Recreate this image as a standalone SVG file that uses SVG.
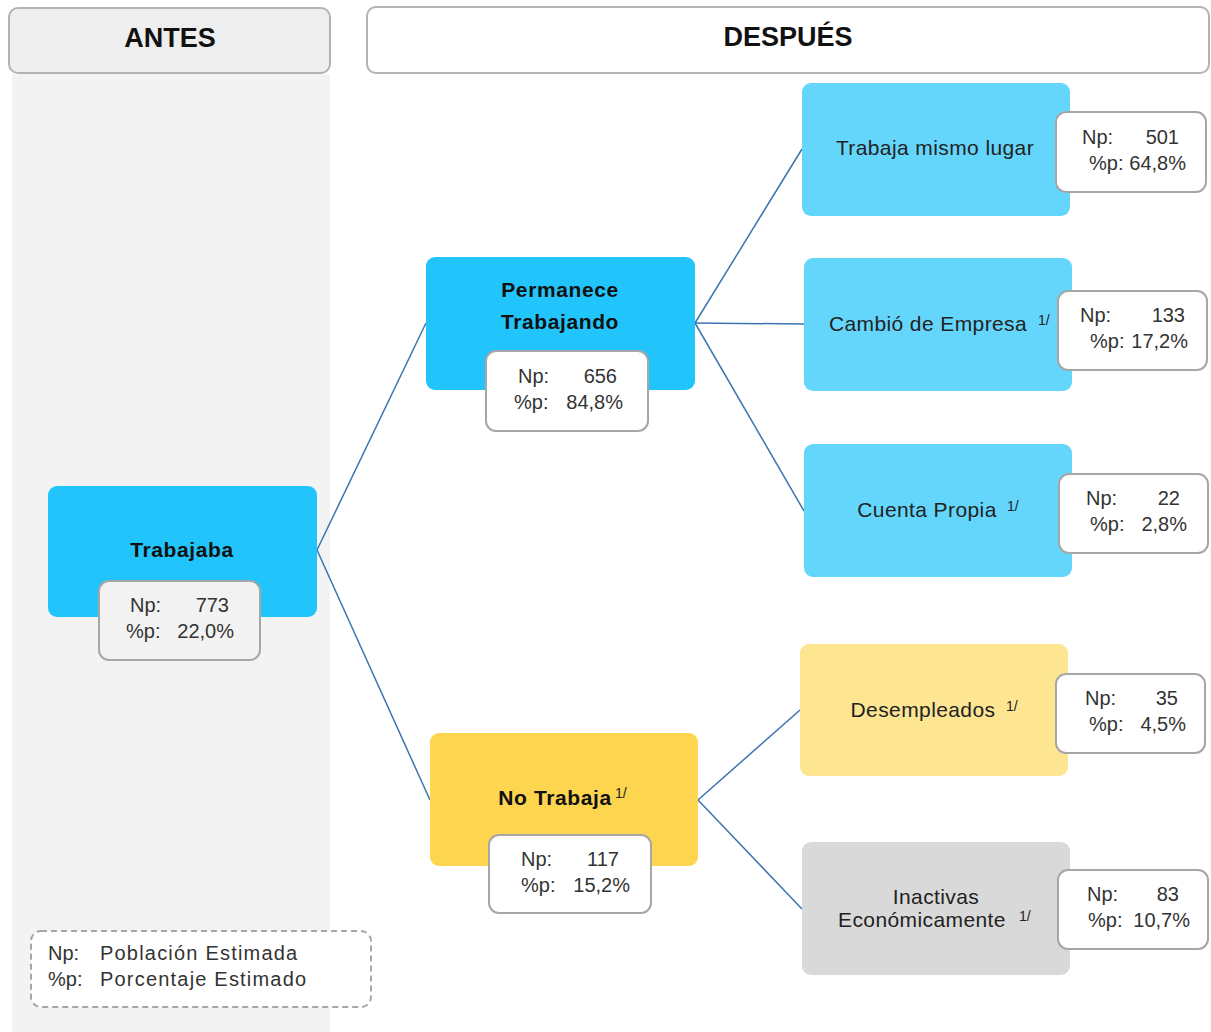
<svg xmlns="http://www.w3.org/2000/svg" width="1211" height="1032" viewBox="0 0 1211 1032">
<style>
text{font-family:"Liberation Sans",Arial,sans-serif;fill:#222}
.hdr{font-size:27px;font-weight:bold;text-anchor:middle;fill:#111}
.bold{font-size:21px;font-weight:bold;text-anchor:middle;fill:#111;letter-spacing:0.6px}
.lbl{font-size:21px;text-anchor:middle;fill:#222;letter-spacing:0.4px}
.num{font-size:20px;fill:#333}
.leg{font-size:20px;fill:#333;letter-spacing:1.2px}
.r{text-anchor:end}
.sup{font-size:14px;fill:#222}
.info{fill:#fff;stroke:#a6a6a6;stroke-width:2}
.conn line{stroke:#3d73b0;stroke-width:1.5}
</style>
<rect x="12" y="74" width="318" height="958" fill="#f3f3f3"/>
<g id="antes">
<rect x="9" y="8" width="321" height="65" rx="9" fill="#eeeeee" stroke="#b3b3b3" stroke-width="2"/>
<text class="hdr" x="170" y="47">ANTES</text>
</g>
<g id="despues">
<rect x="367" y="7" width="842" height="66" rx="9" fill="#fff" stroke="#b3b3b3" stroke-width="2"/>
<text class="hdr" x="788" y="46">DESPUÉS</text>
</g>
<g class="conn" id="connectors">
<line x1="317" y1="550" x2="426" y2="323"/>
<line x1="317" y1="550" x2="430" y2="800"/>
<line x1="695" y1="323" x2="802" y2="149"/>
<line x1="695" y1="323" x2="804" y2="324"/>
<line x1="695" y1="323" x2="804" y2="511"/>
<line x1="698" y1="800" x2="800" y2="710"/>
<line x1="698" y1="800" x2="802" y2="909"/>
</g>
<g id="trabajaba">
<rect x="48" y="486" width="269" height="131" rx="9" fill="#22c5fb"/>
<text class="bold" x="182" y="557">Trabajaba</text>
<rect x="99" y="581" width="161" height="79" rx="10" fill="#f2f2f2" stroke="#a6a6a6" stroke-width="2"/>
<text class="num" x="130" y="612">Np:</text><text class="num r" x="229" y="612">773</text>
<text class="num" x="126" y="638">%p:</text><text class="num r" x="234" y="638">22,0%</text>
</g>
<g id="permanece">
<rect x="426" y="257" width="269" height="133" rx="9" fill="#22c5fb"/>
<text class="bold" x="560" y="297">Permanece</text>
<text class="bold" x="560" y="329">Trabajando</text>
<rect class="info" x="486" y="351" width="162" height="80" rx="10"/>
<text class="num" x="518" y="383">Np:</text><text class="num r" x="617" y="383">656</text>
<text class="num" x="514" y="409">%p:</text><text class="num r" x="623" y="409">84,8%</text>
</g>
<g id="notrabaja">
<rect x="430" y="733" width="268" height="133" rx="9" fill="#fdd54e"/>
<text class="bold" x="555" y="805">No Trabaja</text><text class="sup" x="615" y="798">1/</text>
<rect class="info" x="489" y="835" width="162" height="78" rx="10"/>
<text class="num" x="521" y="866">Np:</text><text class="num r" x="619" y="866">117</text>
<text class="num" x="521" y="892">%p:</text><text class="num r" x="630" y="892">15,2%</text>
</g>
<g id="mismolugar">
<rect x="802" y="83" width="268" height="133" rx="9" fill="#64d6fc"/>
<text class="lbl" x="935" y="155">Trabaja mismo lugar</text>
<rect class="info" x="1056" y="112" width="150" height="80" rx="10"/>
<text class="num" x="1082" y="144">Np:</text><text class="num r" x="1179" y="144">501</text>
<text class="num" x="1089" y="170">%p:</text><text class="num r" x="1186" y="170">64,8%</text>
</g>
<g id="cambio">
<rect x="804" y="258" width="268" height="133" rx="9" fill="#64d6fc"/>
<text class="lbl" x="928" y="331">Cambió de Empresa</text><text class="sup" x="1038" y="325">1/</text>
<rect class="info" x="1058" y="291" width="149" height="79" rx="10"/>
<text class="num" x="1080" y="322">Np:</text><text class="num r" x="1185" y="322">133</text>
<text class="num" x="1090" y="348">%p:</text><text class="num r" x="1188" y="348">17,2%</text>
</g>
<g id="cuentapropia">
<rect x="804" y="444" width="268" height="133" rx="9" fill="#64d6fc"/>
<text class="lbl" x="927" y="517">Cuenta Propia</text><text class="sup" x="1007" y="511">1/</text>
<rect class="info" x="1059" y="474" width="149" height="79" rx="10"/>
<text class="num" x="1086" y="505">Np:</text><text class="num r" x="1180" y="505">22</text>
<text class="num" x="1090" y="531">%p:</text><text class="num r" x="1187" y="531">2,8%</text>
</g>
<g id="desempleados">
<rect x="800" y="644" width="268" height="132" rx="9" fill="#fde592"/>
<text class="lbl" x="923" y="717">Desempleados</text><text class="sup" x="1006" y="711">1/</text>
<rect class="info" x="1056" y="674" width="149" height="79" rx="10"/>
<text class="num" x="1085" y="705">Np:</text><text class="num r" x="1178" y="705">35</text>
<text class="num" x="1089" y="731">%p:</text><text class="num r" x="1186" y="731">4,5%</text>
</g>
<g id="inactivas">
<rect x="802" y="842" width="268" height="133" rx="9" fill="#d9d9d9"/>
<text class="lbl" x="936" y="904">Inactivas</text>
<text class="lbl" x="922" y="927">Económicamente</text><text class="sup" x="1019" y="921">1/</text>
<rect class="info" x="1058" y="870" width="150" height="79" rx="10"/>
<text class="num" x="1087" y="901">Np:</text><text class="num r" x="1179" y="901">83</text>
<text class="num" x="1088" y="927">%p:</text><text class="num r" x="1190" y="927">10,7%</text>
</g>
<g id="legend">
<rect x="31" y="931" width="340" height="76" rx="10" fill="#fff" stroke="#a6a6a6" stroke-width="2" stroke-dasharray="6,4"/>
<text class="num" x="48" y="960">Np:</text><text class="leg" x="100" y="960">Población Estimada</text>
<text class="num" x="48" y="986">%p:</text><text class="leg" x="100" y="986">Porcentaje Estimado</text>
</g>
</svg>
